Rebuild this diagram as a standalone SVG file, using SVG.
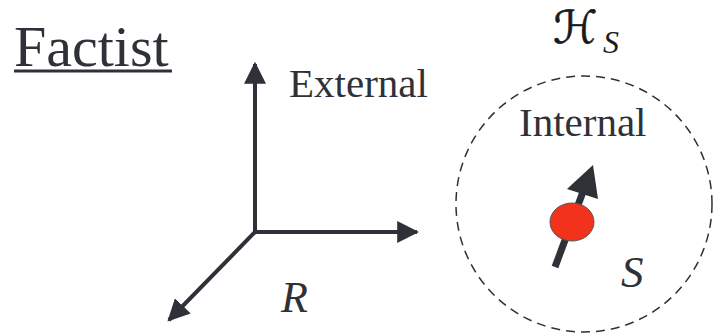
<svg xmlns="http://www.w3.org/2000/svg" width="716" height="333" viewBox="0 0 716 333">
<style>
.ax{stroke:#2e3138;stroke-width:4;fill:none}
</style>
<defs>
<marker id="ah" viewBox="0 0 10 10" refX="9" refY="5" markerWidth="5.5" markerHeight="5.5" markerUnits="strokeWidth" orient="auto">
<path d="M0,0 L10,5 L0,10 Z" fill="#2e3138"/>
</marker>
</defs>
<rect width="716" height="333" fill="#fff"/>
<g id="title">
<text x="14" y="66" font-size="58" font-family="Liberation Serif" fill="#2e3138">Factist</text>
<rect x="14" y="69.5" width="158" height="3" fill="#2e3138"/>
</g>
<g id="connectors">
<line class="ax" x1="255" y1="232" x2="255" y2="64" marker-end="url(#ah)"/>
<line class="ax" x1="253" y1="232" x2="417" y2="232" marker-end="url(#ah)"/>
<line class="ax" x1="256" y1="231" x2="169" y2="320" marker-end="url(#ah)"/>
</g>
<g id="external-label">
<text x="289" y="97" font-size="41" font-family="Liberation Serif" fill="#2e3138">External</text>
</g>
<g id="R-label">
<text x="281" y="312" font-size="44" font-family="Liberation Serif" font-style="italic" fill="#2e3138">R</text>
</g>
<g id="system">
<circle cx="584" cy="204" r="128" fill="none" stroke="#2e3138" stroke-width="1.5" stroke-dasharray="9,6"/>
<text x="519" y="136" font-size="41" font-family="Liberation Serif" fill="#2e3138">Internal</text>
<line x1="555" y1="267" x2="590" y2="173" stroke="#2e3138" stroke-width="7"/>
<path d="M593,165 L598,199 L567,189 Z" fill="#2e3138"/>
<ellipse cx="572" cy="222" rx="22" ry="19" fill="#f2321a" stroke="#555" stroke-width="1"/>
<text x="621" y="287" font-size="45" font-family="Liberation Serif" font-style="italic" fill="#2e3138">S</text>
</g>
<g id="HS-label">
<text x="553" y="43" font-size="45" font-family="DejaVu Sans" fill="#1a1a1a" stroke="#1a1a1a" stroke-width="0.6">ℋ</text>
<text x="603" y="53" font-size="32" font-family="Liberation Serif" font-style="italic" fill="#1a1a1a">S</text>
</g>
</svg>
